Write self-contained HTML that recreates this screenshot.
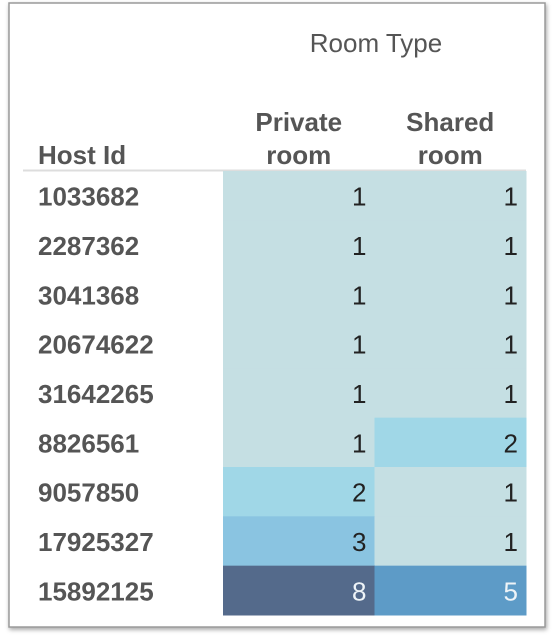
<!DOCTYPE html>
<html><head><meta charset="utf-8"><style>
html,body{margin:0;padding:0;background:#fff;width:555px;height:642px;overflow:hidden;}
svg{display:block;}
svg text{font-family:"Liberation Sans",Arial,sans-serif;}
</style></head><body>
<svg id="chart" width="555" height="642" xmlns="http://www.w3.org/2000/svg">
<rect x="0" y="0" width="555" height="642" fill="#fff"/>
<rect x="9" y="3" width="536" height="624" fill="#fff" stroke="#9a9a9a" stroke-width="1.5" style="filter:drop-shadow(1px 2px 2px rgba(0,0,0,0.35))"/>
<text x="376" y="52" font-size="26" fill="#555" text-anchor="middle">Room Type</text>
<text x="38" y="164" font-size="26" font-weight="bold" fill="#555">Host Id</text>
<line x1="23" y1="170.5" x2="526" y2="170.5" stroke="#ddd" stroke-width="2"/>
<g id="cells"></g>
</svg>
<script>
const hosts = ["1033682","2287362","3041368","20674622","31642265","8826561","9057850","17925327","15892125"];
const roomTypes = [["Private","room"],["Shared","room"]];
const privateRoom = [1,1,1,1,1,1,2,3,8];
const sharedRoom = [1,1,1,1,1,2,1,1,5];
const series = [privateRoom, sharedRoom];

const svg = document.getElementById('chart');
const g = document.getElementById('cells');
const NS = "http://www.w3.org/2000/svg";
const x0 = 223, colW = 151.5, y0 = 171, rowH = (615 - 171) / hosts.length;
const colX = i => x0 + i * colW;
const rowY = i => y0 + i * rowH;
function color(v){
  const map = {1:"#c5dfe3",2:"#a0d7e7",3:"#8ac4e1",4:"#72b0d6",5:"#5d9bc7",6:"#5a88b0",7:"#56789c",8:"#546a8b"};
  return map[Math.min(8,Math.max(1,Math.round(v)))];
}
roomTypes.forEach((lines, c) => {
  lines.forEach((ln, k) => {
    const t = document.createElementNS(NS,'text');
    t.setAttribute('x', colX(c) + colW/2);
    t.setAttribute('y', 131 + k*33);
    t.setAttribute('font-size','26');
    t.setAttribute('font-weight','bold');
    t.setAttribute('fill','#555');
    t.setAttribute('text-anchor','middle');
    t.textContent = ln;
    
    
    svg.appendChild(t);
  });
});
hosts.forEach((h, r) => {
  const t = document.createElementNS(NS,'text');
  t.setAttribute('x', 38);
  t.setAttribute('y', rowY(r) + rowH/2 + 10);
  t.setAttribute('font-size','26');
  t.setAttribute('font-weight','bold');
  t.setAttribute('fill','#555');
  t.textContent = h;
  
  
  g.appendChild(t);
  series.forEach((s, c) => {
    const v = s[r];
    const rc = document.createElementNS(NS,'rect');
    rc.setAttribute('x', colX(c));
    rc.setAttribute('y', rowY(r));
    rc.setAttribute('width', colW + 0.5);
    rc.setAttribute('height', rowH + 0.5);
    rc.setAttribute('fill', color(v));
    
    
    g.appendChild(rc);
    const tv = document.createElementNS(NS,'text');
    tv.setAttribute('x', colX(c) + colW - 8);
    tv.setAttribute('y', rowY(r) + rowH/2 + 10);
    tv.setAttribute('font-size','26');
    tv.setAttribute('text-anchor','end');
    tv.setAttribute('fill', v >= 5 ? '#eef4f8' : '#222');
    tv.textContent = v;
    
    
    g.appendChild(tv);
  });
});
</script>
</body></html>
